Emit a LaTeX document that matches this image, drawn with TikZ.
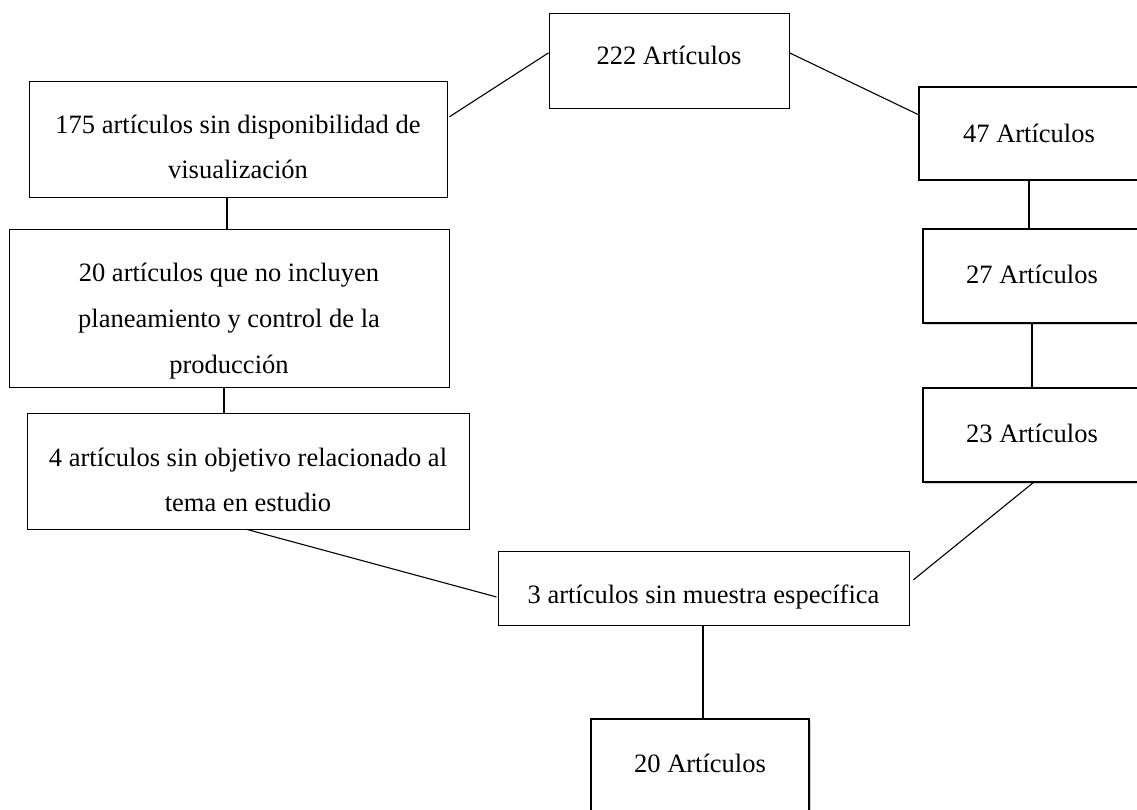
\documentclass[tikz,border=0pt]{standalone}
\usepackage{fontspec}
\setmainfont{Liberation Serif}
\usetikzlibrary{calc,shadows}
\newcommand{\tstrut}[1]{\rule{0pt}{#1}}
\tikzset{
  box/.style={draw=black, line width=0.9pt, fill=white, inner sep=0pt, align=center,
    font=\fontsize{26.5}{45}\selectfont},
  sbox/.style={box, line width=1.7pt, drop shadow={opacity=0.35, shadow xshift=1.5pt, shadow yshift=-1.5pt}},
  tup/.style={execute at begin node={\rule[-#1]{0pt}{#1}}},
  link/.style={draw=black, line width=1.1pt}
}
\begin{document}
\begin{tikzpicture}[x=1pt,y=-1pt]
\useasboundingbox (0,0) rectangle (1137,810);
\begin{scope}
\clip (0,0) rectangle (1137,810);
\node[box, tup=10pt, minimum width=240pt, minimum height=95pt] (n222) at (669,60.5) {222 Artículos};
\node[box, minimum width=418pt, minimum height=116pt] (n175) at (238,139) {\tstrut{34pt}175 artículos sin disponibilidad de\\visualización};
\node[box, font=\fontsize{26.5}{46}\selectfont, minimum width=440pt, minimum height=158pt] (n20a) at (229,308) {\tstrut{45pt}20 artículos que no incluyen\\planeamiento y control de la\\producción};
\node[box, minimum width=442pt, minimum height=116pt] (n4) at (248,471) {\tstrut{36pt}4 artículos sin objetivo relacionado al\\tema en estudio};
\node[box, minimum width=411pt, minimum height=74pt] (n3) at (703.5,588) {\tstrut{36pt}3 artículos sin muestra específica};
\node[sbox, minimum width=220pt, minimum height=93pt] (n47) at (1029,133.5) {47 Artículos};
\node[sbox, tup=4pt, minimum width=218pt, minimum height=94pt] (n27) at (1032,276) {27 Artículos};
\node[sbox, tup=4pt, minimum width=218pt, minimum height=94pt] (n23) at (1032,435) {23 Artículos};
\node[sbox, tup=6pt, minimum width=218pt, minimum height=95pt] (n20) at (700,766.5) {20 Artículos};
\end{scope}
% connectors
\draw[link] ($(n222.north west)!0.42!(n222.south west)$) -- ($(n175.north east)!0.31!(n175.south east)+(2,0)$);
\draw[link] ($(n222.north east)!0.42!(n222.south east)$) -- ($(n47.north west)!0.30!(n47.south west)$);
\draw[link] (n175.south -| 227,0) -- (n20a.north -| 227,0);
\draw[link] (n20a.south -| 224,0) -- (n4.north -| 224,0);
\draw[link] (n47.south -| 1029,0) -- (n27.north -| 1029,0);
\draw[link] (n27.south -| 1032,0) -- (n23.north -| 1032,0);
\draw[link] ($(n4.south)+(-1,0)$) -- ($(n3.north west)!0.62!(n3.south west)+(-1,0)$);
\draw[link] ($(n23.south)+(1,0)$) -- ($(n3.north east)!0.39!(n3.south east)+(4,0)$);
\draw[link] (n3.south -| 703,0) -- (n20.north -| 703,0);
\end{tikzpicture}
\end{document}
